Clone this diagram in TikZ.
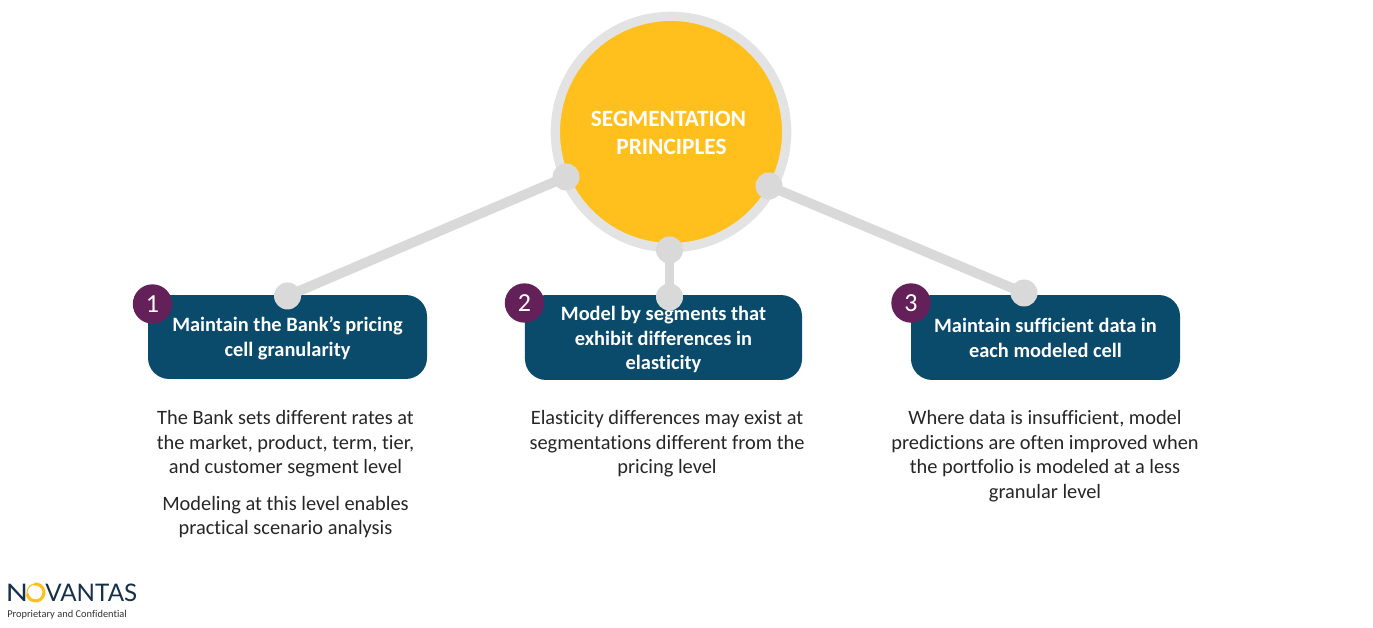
\documentclass[tikz,border=0pt]{standalone}
\usepackage{fontspec}
\setmainfont{Carlito}[Ligatures=NoCommon]
\newfontfamily\logofont{Lato}
\usetikzlibrary{positioning,calc}
\definecolor{hubgold}{HTML}{FFC01D}
\definecolor{ringgray}{HTML}{E3E3E3}
\definecolor{linkgray}{HTML}{D9D9D9}
\definecolor{boxblue}{HTML}{0A4A6B}
\definecolor{badgeplum}{HTML}{632059}
\definecolor{logonavy}{HTML}{14304A}
\tikzset{
    linkline/.style={line width=7pt, draw=linkgray, shorten >=-2pt, shorten <=-2pt},
    linkdot/.style={circle, fill=linkgray, minimum size=19.2pt, inner sep=0pt},
    headbox/.style={rounded corners=15pt, fill=boxblue, inner sep=0pt},
    headtext/.style={text=white, align=center, inner sep=0pt, font=\fontsize{14.5}{17.5}\selectfont\bfseries},
    badge/.style={circle, fill=badgeplum, text=white, minimum size=28pt, inner sep=0pt, font=\fontsize{18.5}{20}\selectfont},
    bodytext/.style={align=center, text=black!85, font=\fontsize{14.5}{17.5}\selectfont},
    logotext/.style={anchor=west, inner sep=0pt, text=logonavy, font=\logofont\fontsize{17.2}{20}\selectfont}
}
\begin{document}
\begin{tikzpicture}[x=0.025cm, y=-0.025cm]
    \useasboundingbox (0,0) rectangle (1373,628);

    % Hub
    \node (hub) [circle, fill=hubgold, draw=ringgray, line width=6.6pt, minimum size=164.5pt, inner sep=0pt] at (671,132) {};
    \node (hubtext) [text=white, align=center, inner sep=0pt, font=\fontsize{16.6}{19.9}\selectfont\bfseries] at (668.5,133) {SEGMENTATION\\\hspace*{4.2pt}PRINCIPLES};

    % Header boxes
    \node (boxa) [headbox, minimum width=198.4pt, minimum height=59.7pt] at (287.5,337) {};
    \node (boxb) [headbox, minimum width=197pt, minimum height=60.4pt] at (663.5,337.5) {};
    \node (boxc) [headbox, minimum width=191.3pt, minimum height=60.4pt] at (1045.5,337.5) {};
    \node (heada) [headtext] at (287.5,338.5) {Maintain the Bank’s pricing\\cell granularity};
    \node (headb) [headtext] at (663.5,339.5) {Model by segments that\\exhibit differences in\\elasticity};
    \node (headc) [headtext] at (1045.5,338) {Maintain sufficient data in\\each modeled cell};

    % Connectors
    \node (huba) [linkdot] at (566,177) {};
    \node (hubb) [linkdot] at (669.5,250) {};
    \node (hubc) [linkdot] at (769,186) {};
    \node (topa) [linkdot] at (287.5,296) {};
    \node (topb) [linkdot] at (669.5,297) {};
    \node (topc) [linkdot] at (1024,293) {};
    \draw [linkline] (huba) -- (topa);
    \draw [linkline] (hubb) -- (topb);
    \draw [linkline] (hubc) -- (topc);

    % Number badges
    \node (numa) [badge] at (152.5,304) {1};
    \node (numb) [badge] at (524.5,303) {2};
    \node (numc) [badge] at (911,303) {3};

    % Body text
    \node (texta) [bodytext] at (285.5,444) {The Bank sets different rates at\\the market, product, term, tier,\\and customer segment level};
    \node (textd) [bodytext] at (285.5,517) {Modeling at this level enables\\practical scenario analysis};
    \node (textb) [bodytext] at (667,444) {Elasticity differences may exist at\\segmentations different from the\\pricing level};
    \node (textc) [bodytext] at (1045,456) {Where data is insufficient, model\\predictions are often improved when\\the portfolio is modeled at a less\\granular level};

    % Logo
    \node (logon) [logotext, xscale=1.2, transform shape] at (5.5,593) {N};
    \node (logov) [logotext] at (45,593) {VANTAS};
    \draw [hubgold, line width=0.8pt] (35.5,592.5) circle (8.5);
    \draw [hubgold, line width=2.2pt] (34,584.1) arc [start angle=-100, end angle=170, radius=8.5];
    \node (conf) [anchor=west, inner sep=0pt, text=black!80, font=\fontsize{7.4}{8}\selectfont] at (7,615) {Proprietary and Confidential};
\end{tikzpicture}
\end{document}
